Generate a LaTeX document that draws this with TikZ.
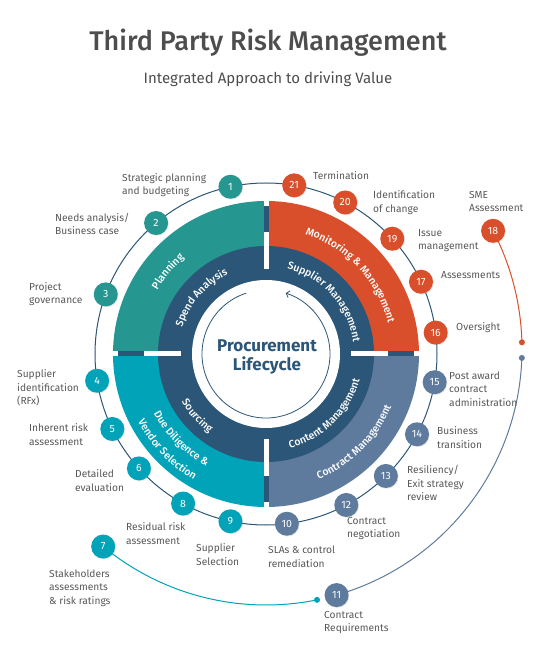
\documentclass[tikz,border=0pt]{standalone}
\usepackage{fontspec}
\setmainfont{Fira Sans}
\newfontfamily\medfont{Fira Sans Medium}
\usetikzlibrary{positioning,calc,decorations.text,shadows,backgrounds,arrows.meta}

\definecolor{planC}{RGB}{38,150,144}
\definecolor{monC}{RGB}{217,79,43}
\definecolor{dueC}{RGB}{0,163,184}
\definecolor{conC}{RGB}{94,123,158}
\definecolor{navyC}{RGB}{43,86,120}
\definecolor{textC}{RGB}{88,88,88}
\definecolor{titleC}{RGB}{77,77,77}

\newcommand\bandfont{\fontsize{10.5}{12}\selectfont\medfont}

\tikzset{
  num/.style={circle, minimum size=24pt, inner sep=0pt, text=white,
    font=\fontsize{10.5}{12}\selectfont,
    drop shadow={opacity=0.2, shadow xshift=0.8pt, shadow yshift=-0.8pt}},
  lbl/.style={align=left, anchor=west, inner sep=0pt, text=textC,
    font=\fontsize{10.2}{13.5}\selectfont},
  ringline/.style={navyC, line width=1pt},
  dot/.style={circle, inner sep=0pt, minimum size=6pt},
  bandtext/.style={decorate, decoration={text along path, text align=center,
    text color=white, text={|\bandfont|#1}}}
}

\begin{document}
\begin{tikzpicture}[x=1pt, y=1pt]
    \useasboundingbox (-266,-306) rectangle (270,354);
    % Title
    \node[text=titleC, font=\fontsize{27}{30}\selectfont\medfont] (title) at (2,311) {Third Party Risk Management};
    \node[text=titleC, font=\fontsize{15}{18}\selectfont] (subtitle) at (2,275) {Integrated Approach to driving Value};
    % Quadrants
    \fill[planC] (0,0) -- (180:153pt) arc[start angle=180, end angle=90, radius=153pt] -- cycle;
    \fill[monC] (0,0) -- (90:153pt) arc[start angle=90, end angle=0, radius=153pt] -- cycle;
    \fill[conC] (0,0) -- (0:153pt) arc[start angle=0, end angle=-90, radius=153pt] -- cycle;
    \fill[dueC] (0,0) -- (-90:153pt) arc[start angle=-90, end angle=-180, radius=153pt] -- cycle;
    \foreach \a in {0,90,180,270} {
        \draw[white, line width=5pt] (0,0) -- (\a:156pt);
        \draw[navyC, line width=5pt] (\a:122pt) -- (\a:148pt);
    }
    \fill[navyC] (0,0) circle[radius=108pt];
    \foreach \a in {0,90,180,270}
        \draw[white, line width=5pt] (\a:85pt) -- (\a:122pt);
    \fill[white] (0,0) circle[radius=74pt];
    \draw[navyC, line width=0.8pt, -{Straight Barb[length=3pt, width=7pt]}] (108:64pt) arc[start angle=108, end angle=432, radius=64pt];
    \node[text=navyC, align=center, font=\fontsize{17}{19}\selectfont\bfseries] (core) at (1,-3) {Procurement\\Lifecycle};
    % Band texts
    \path[bandtext=Planning] (190:126pt) arc[start angle=190, end angle=90, radius=126pt];
    \path[bandtext=Monitoring {\&} Management] (93:126pt) arc[start angle=93, end angle=-7, radius=126pt];
    \path[bandtext=Spend Analysis] (189:88pt) arc[start angle=189, end angle=89, radius=88pt];
    \path[bandtext=Supplier Management] (95:88pt) arc[start angle=95, end angle=-11, radius=88pt];
    \path[bandtext=Sourcing] (172:97pt) arc[start angle=172, end angle=272, radius=97pt];
    \path[bandtext=Content Management] (258:97pt) arc[start angle=258, end angle=371, radius=97pt];
    \path[bandtext=Due Diligence {\&}] (175:127pt) arc[start angle=175, end angle=275, radius=127pt];
    \path[bandtext=Vendor Selection] (174:145pt) arc[start angle=174, end angle=274, radius=145pt];
    \path[bandtext=Contract Management] (265:136pt) arc[start angle=265, end angle=365, radius=136pt];
    % Ring of steps
    \draw[ringline] (0,0) circle[radius=171pt];
    \foreach \n/\a/\c in {1/102/planC, 2/130/planC, 3/159.6/planC,
        4/189/dueC, 5/206/dueC, 6/222/dueC, 8/241/dueC, 9/258/dueC,
        10/277/conC, 12/298/conC, 13/314.5/conC, 14/332/conC, 15/350.5/conC,
        16/7.2/monC, 17/25/monC, 19/42.4/monC, 20/62.4/monC, 21/80.5/monC}
        \node[num, fill=\c] (n\n) at (\a:171pt) {\n};
    % Outer steps
    \node[num, fill=monC] (n18) at ($(0,5)+(27.5:256pt)$) {18};
    \node[num, fill=dueC] (n7) at ($(0,5)+(-129.5:256pt)$) {7};
    \node[num, fill=conC] (n11) at ($(0,5)+(-74:256pt)$) {11};
    \node[dot, fill=monC] (d18) at ($(0,5)+(1.5:256pt)$) {};
    \node[dot, fill=conC] (d11) at ($(0,5)+(-2:256pt)$) {};
    \node[dot, fill=dueC] (d7) at ($(0,5)+(-78.5:256pt)$) {};
    \begin{scope}[on background layer]
        \draw[monC, line width=1pt] (n18.center) arc[start angle=27.5, end angle=1.5, radius=256pt];
        \draw[conC, line width=1pt] (d11.center) arc[start angle=-2, end angle=-74, radius=256pt];
        \draw[dueC, line width=1pt] (n7.center) arc[start angle=-129.5, end angle=-78.5, radius=256pt];
    \end{scope}
    % Labels
    \node[lbl] (l1) at (-144,169) {Strategic planning\\and budgeting};
    \node[lbl] (l2) at (-211,130) {Needs analysis/\\Business case};
    \node[lbl] (l3) at (-237,60) {Project\\governance};
    \node[lbl] (l4) at (-249,-34) {Supplier\\identification\\(RFx)};
    \node[lbl] (l5) at (-237,-80.5) {Inherent risk\\assessment};
    \node[lbl] (l6) at (-191,-126.5) {Detailed\\evaluation};
    \node[lbl] (l7) at (-217,-234) {Stakeholders\\assessments\\\& risk ratings};
    \node[lbl] (l8) at (-140,-179.5) {Residual risk\\assessment};
    \node[lbl] (l9) at (-70,-200.5) {Supplier\\Selection};
    \node[lbl] (l10) at (2,-202.5) {SLAs \& control\\remediation};
    \node[lbl] (l11) at (58,-268.5) {Contract\\Requirements};
    \node[lbl] (l12) at (81,-174.5) {Contract\\negotiation};
    \node[lbl] (l13) at (141,-129) {Resiliency/\\Exit strategy\\review};
    \node[lbl] (l14) at (171,-83.5) {Business\\transition};
    \node[lbl] (l15) at (183,-35) {Post award\\contract\\administration};
    \node[lbl] (l16) at (190,26) {Oversight};
    \node[lbl] (l17) at (175,79) {Assessments};
    \node[lbl] (l18) at (203,152.5) {SME\\Assessment};
    \node[lbl] (l19) at (152,113.5) {Issue\\management};
    \node[lbl] (l20) at (107,151.5) {Identification\\of change};
    \node[lbl] (l21) at (47,178) {Termination};
\end{tikzpicture}
\end{document}
